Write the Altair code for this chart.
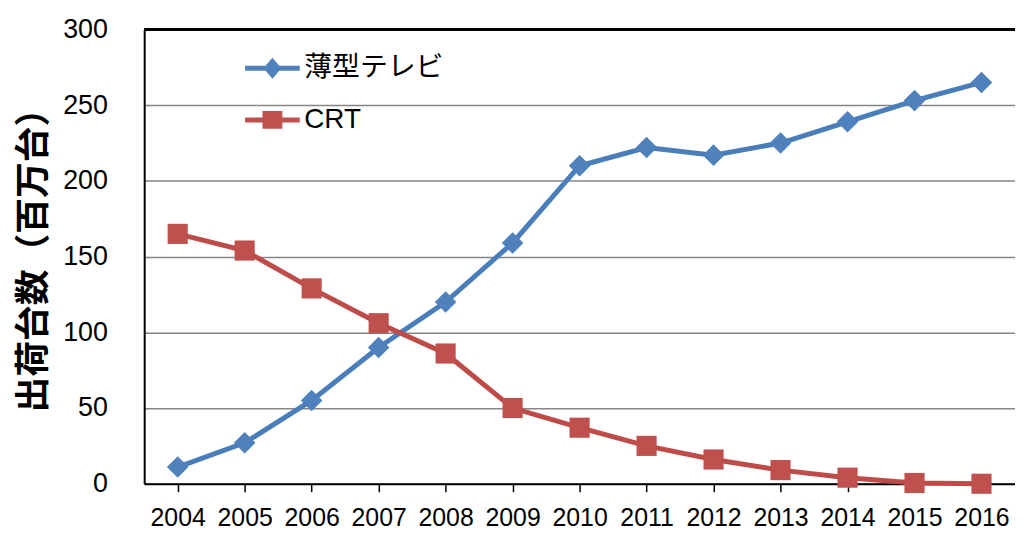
import altair as alt
import pandas as pd

years = [str(y) for y in range(2004, 2017)]
series_names = ["薄型テレビ", "CRT"]
flat_tv = [11, 27, 55, 90, 120, 159, 210, 222, 217, 225, 239, 253, 265]
crt = [165, 154, 129, 106, 86, 50, 37, 25, 16, 9, 4, 0.5, 0]
y_ticks = [0, 50, 100, 150, 200, 250, 300]

rows = []
for name, vals in zip(series_names, [flat_tv, crt]):
    for yr, v in zip(years, vals):
        rows.append({"year": yr, "value": v, "series": name})
df = pd.DataFrame(rows)

BLUE_LINE = "#4A7EBB"
BLUE = "#4F81BD"
RED_LINE = "#BE4B48"
RED = "#C0504D"
FONT = "Liberation Sans, Noto Sans CJK JP"

x_enc = alt.X("year:N", sort=years, title=None,
              scale=alt.Scale(type="point", padding=0.5),
              axis=alt.Axis(labelFontSize=25, labelFont=FONT, labelColor="#000000",
                            labelAngle=0, labelPadding=14, ticks=True, tickSize=8,
                            tickColor="#000000", tickWidth=1.5,
                            domainColor="#000000", domainWidth=2, grid=False))
y_enc = alt.Y("value:Q", title="出荷台数（百万台）",
              scale=alt.Scale(domain=[0, 300], nice=False),
              axis=alt.Axis(values=y_ticks, labelFontSize=27, labelFont=FONT,
                            labelColor="#000000", labelPadding=37, ticks=False,
                            tickSize=0, domainColor="#000000", domainWidth=2,
                            grid=True, gridColor="#868686", gridWidth=1.5,
                            titleFont="Noto Sans CJK JP", titleFontSize=36,
                            titleFontWeight="bold", titleColor="#000000",
                            titleAngle=-90, titleAlign="center",
                            titleBaseline="middle", titleX=-111, titleY=223))

base = alt.Chart(df).encode(x=x_enc, y=y_enc)

top_rule = alt.Chart(df).mark_rule(color="#000000", strokeWidth=2).encode(
    y=alt.datum(300))

blue_line = base.transform_filter(alt.datum.series == series_names[0]).mark_line(
    color=BLUE_LINE, strokeWidth=5)
blue_pts = base.transform_filter(alt.datum.series == series_names[0]).mark_point(
    shape="diamond", filled=True, size=470, color=BLUE, opacity=1)
red_line = base.transform_filter(alt.datum.series == series_names[1]).mark_line(
    color=RED_LINE, strokeWidth=5)
red_pts = base.transform_filter(alt.datum.series == series_names[1]).mark_point(
    shape="square", filled=True, size=410, color=RED, opacity=1)

diamond_sym = "M-1.1,-0.1H1.1V0.1H-1.1Z M0,-0.42L0.36,0L0,0.42L-0.36,0Z"
square_sym = "M-1.1,-0.1H1.1V0.1H-1.1Z M-0.4,-0.36H0.4V0.36H-0.4Z"

leg = dict(title=None, orient="none", legendX=104, legendY=14,
           symbolSize=2500, symbolOpacity=1, symbolStrokeWidth=0,
           labelFontSize=28, labelFont=FONT, labelColor="#000000",
           labelOffset=7, rowPadding=13, padding=0)

legend_layer = base.mark_point(filled=True, opacity=0, size=1).encode(
    color=alt.Color("series:N", scale=alt.Scale(domain=series_names, range=[BLUE, RED]),
                    legend=alt.Legend(**leg)),
    shape=alt.Shape("series:N", scale=alt.Scale(domain=series_names,
                                                range=[diamond_sym, square_sym]),
                    legend=alt.Legend(**leg)),
)

chart = alt.layer(top_rule, blue_line, blue_pts, red_line, red_pts, legend_layer).properties(
    width=876, height=457,
    autosize=alt.AutoSizeParams(type="none"),
    padding={"left": 137, "top": 20, "right": 0, "bottom": 50},
).configure_view(stroke=None).configure(background="#ffffff")

chart.save("out.html", embed_options={"renderer": "svg", "actions": False})
